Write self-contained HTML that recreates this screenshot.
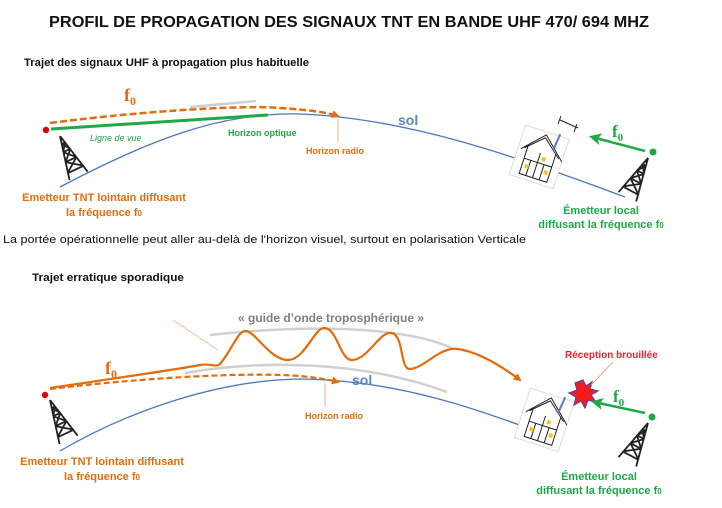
<!DOCTYPE html>
<html><head><meta charset="utf-8"><style>
html,body{margin:0;padding:0;background:#fff;}
svg{display:block;font-family:"Liberation Sans",sans-serif;}
</style></head><body>
<svg width="722" height="508" viewBox="0 0 722 508" xmlns="http://www.w3.org/2000/svg">
<defs>
<marker id="ao" markerWidth="8" markerHeight="8" refX="6" refY="4" orient="auto" markerUnits="userSpaceOnUse"><path d="M0,0 L8,4 L0,8 z" fill="#e46c0a"/></marker>
<marker id="ag" markerWidth="12" markerHeight="12" refX="9" refY="6" orient="auto" markerUnits="userSpaceOnUse"><path d="M0,0 L12,6 L0,12 L3,6 z" fill="#1fa846"/></marker>
<g id="tower" stroke="#222" stroke-width="1.8" fill="none">
<path d="M0,0 L-10,44 M0,0 L10,44 M-2,8 L2,8 M-4,16 L4,16 M-6,26 L6,26 M-9,37 L9,37 M-4,16 L6,26 M4,16 L-6,26 M-6,26 L9,37 M6,26 L-9,37 M-2,8 L4,16 M2,8 L-4,16"/>
</g>
<g id="house" stroke="#222" stroke-width="1" fill="none">
<rect x="-4" y="-4" width="46" height="52" fill="#fff" stroke="#ddd"/>
<path d="M2,18 L19,2 L38,18 M5,15 L5,44 L34,44 L34,15 M5,28 L34,28 M19,18 L19,44 M12,28 L12,44 M26,28 L26,44 M-1,20 L19,-1 L42,20"/>
<rect x="8" y="33" width="4" height="4" fill="#f5c518" stroke="none"/>
<rect x="28" y="33" width="4" height="4" fill="#f5c518" stroke="none"/>
<rect x="22" y="21" width="4" height="4" fill="#f5c518" stroke="none"/>
<path d="M30,12 L32,-6" stroke="#5a7fbf" stroke-width="2"/>
</g>
</defs>

<text x="49" y="27" font-size="16" font-weight="bold" fill="#111" textLength="600" lengthAdjust="spacingAndGlyphs">PROFIL DE PROPAGATION DES SIGNAUX TNT EN BANDE UHF 470/ 694 MHZ</text>
<text x="24" y="66" font-size="11" font-weight="bold" fill="#111" textLength="285" lengthAdjust="spacingAndGlyphs">Trajet des signaux UHF à propagation plus habituelle</text>

<!-- TOP SECTION -->
<path d="M60,187 C150,140 220,112 300,114 C400,118 500,150 625,197" stroke="#4a78c2" stroke-width="1.3" fill="none"/>
<line x1="190" y1="107" x2="256" y2="101" stroke="#cfcfcf" stroke-width="2.5"/>
<path d="M50,123 C150,110 250,105 280,108 C310,110 325,112 338,116" stroke="#e46c0a" stroke-width="2.5" stroke-dasharray="7,3" fill="none" marker-end="url(#ao)"/>
<line x1="51" y1="129" x2="268" y2="115" stroke="#1fa846" stroke-width="3"/>
<circle cx="46" cy="130" r="3.2" fill="#e00000"/>
<use href="#tower" x="60" y="136" transform="rotate(-25 60 136)"/>
<text x="124" y="101" font-family="Liberation Serif,serif" font-size="18" font-weight="bold" fill="#e46c0a">f<tspan font-size="12" dy="4">0</tspan></text>
<text x="90" y="141" font-size="9" font-style="italic" fill="#1fa846">Ligne de vue</text>
<text x="228" y="136" font-size="9" font-weight="bold" fill="#1fa846">Horizon optique</text>
<line x1="338" y1="119" x2="338" y2="142" stroke="#f0a070" stroke-width="0.8"/>
<text x="306" y="154" font-size="9" font-weight="bold" fill="#e46c0a">Horizon radio</text>
<text x="398" y="125" font-size="14" font-weight="bold" fill="#5b86c8">sol</text>
<g transform="translate(528,130) rotate(18)"><use href="#house"/></g>
<path d="M560,120 L578,128 M561,116 L558,124 M577,124 L574,132" stroke="#222" stroke-width="1"/>
<line x1="645" y1="151" x2="592" y2="137" stroke="#1fa846" stroke-width="2.5" marker-end="url(#ag)"/>
<text x="612" y="137" font-family="Liberation Serif,serif" font-size="17" font-weight="bold" fill="#1fa846">f<tspan font-size="11" dy="4">0</tspan></text>
<circle cx="653" cy="152" r="3.5" fill="#1fa846"/>
<use href="#tower" x="648" y="158" transform="rotate(28 648 158)"/>
<g font-size="11" font-weight="bold" fill="#e46c0a" text-anchor="middle">
<text x="104" y="201">Emetteur TNT lointain diffusant</text>
<text x="104" y="216">la fréquence f<tspan font-size="8">0</tspan></text>
</g>
<g font-size="11" font-weight="bold" fill="#1fa846" text-anchor="middle">
<text x="601" y="214">Émetteur local</text>
<text x="601" y="228">diffusant la fréquence f<tspan font-size="8">0</tspan></text>
</g>
<text x="3" y="243" font-size="11" fill="#111" textLength="523" lengthAdjust="spacingAndGlyphs">La portée opérationnelle peut aller au-delà de l'horizon visuel, surtout en polarisation Verticale</text>

<!-- BOTTOM SECTION -->
<text x="32" y="281" font-size="11" font-weight="bold" fill="#111" textLength="152" lengthAdjust="spacingAndGlyphs">Trajet erratique sporadique</text>
<path d="M60,451 C130,410 220,380 300,379 C400,380 480,410 560,440" stroke="#4a78c2" stroke-width="1.3" fill="none"/>
<path d="M210,335 C300,325 400,325 452,348" stroke="#d0d0d0" stroke-width="2.5" fill="none"/>
<path d="M185,373 C260,360 360,360 447,392" stroke="#d0d0d0" stroke-width="2.5" fill="none"/>
<path d="M50,388 C130,376 180,369 200,365 C212,363 216,368 220,364 C232,350 238,330 246,331 C256,332 270,360 288,360 C305,360 315,326 325,328 C338,330 340,360 352,360 C368,360 380,330 392,333 C404,336 400,370 410,369 C425,368 440,346 458,349 C478,352 500,365 520,380" stroke="#e46c0a" stroke-width="2.2" fill="none" marker-end="url(#ao)"/>
<path d="M50,389 C150,377 250,372 300,376 C320,378 330,380 338,382" stroke="#e46c0a" stroke-width="2.2" stroke-dasharray="6,3" fill="none" marker-end="url(#ao)"/>
<line x1="173" y1="320" x2="218" y2="350" stroke="#f5b590" stroke-width="0.8"/>
<circle cx="45" cy="395" r="3.2" fill="#e00000"/>
<use href="#tower" x="50" y="400" transform="rotate(-25 50 400)"/>
<text x="105" y="374" font-family="Liberation Serif,serif" font-size="18" font-weight="bold" fill="#e46c0a">f<tspan font-size="12" dy="4">0</tspan></text>
<text x="238" y="322" font-size="12" font-weight="bold" fill="#808080">« guide d’onde troposphérique »</text>
<line x1="325" y1="383" x2="325" y2="407" stroke="#f0a070" stroke-width="0.8"/>
<text x="305" y="419" font-size="9" font-weight="bold" fill="#e46c0a">Horizon radio</text>
<text x="352" y="385" font-size="14" font-weight="bold" fill="#5b86c8">sol</text>
<g transform="translate(533,393) rotate(18)"><use href="#house"/></g>
<path d="M583,380 L586,386 L592,382 L590,389 L598,391 L591,395 L596,402 L588,400 L585,408 L581,401 L574,405 L576,397 L569,393 L577,390 L575,383 Z" fill="#ff1a1a" stroke="#4a4aa0" stroke-width="1.2"/>
<line x1="591" y1="385" x2="613" y2="362" stroke="#f08080" stroke-width="0.8"/>
<text x="565" y="358" font-size="10" font-weight="bold" fill="#ff1a2e">Réception brouillée</text>
<line x1="645" y1="413" x2="594" y2="402" stroke="#1fa846" stroke-width="2.5" marker-end="url(#ag)"/>
<text x="613" y="402" font-family="Liberation Serif,serif" font-size="17" font-weight="bold" fill="#1fa846">f<tspan font-size="11" dy="4">0</tspan></text>
<circle cx="652" cy="417" r="3.5" fill="#1fa846"/>
<use href="#tower" x="648" y="423" transform="rotate(28 648 423)"/>
<g font-size="11" font-weight="bold" fill="#e46c0a" text-anchor="middle">
<text x="102" y="465">Emetteur TNT lointain diffusant</text>
<text x="102" y="480">la fréquence f<tspan font-size="8">0</tspan></text>
</g>
<g font-size="11" font-weight="bold" fill="#1fa846" text-anchor="middle">
<text x="599" y="480">Émetteur local</text>
<text x="599" y="494">diffusant la fréquence f<tspan font-size="8">0</tspan></text>
</g>
</svg>
</body></html>
